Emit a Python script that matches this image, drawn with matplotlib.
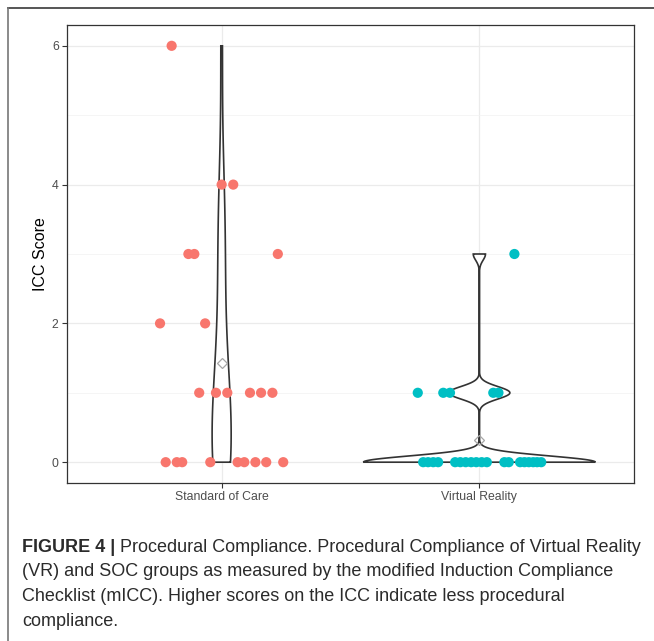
import numpy as np
import matplotlib.pyplot as plt
from matplotlib.lines import Line2D

plt.rcParams['font.family'] = ['Liberation Sans', 'DejaVu Sans']

groups = ["Standard of Care", "Virtual Reality"]
colors = ["#F8766D", "#00BFC4"]

# ICC scores per participant, with the horizontal jitter seen there
soc_scores = [6, 4, 4, 3, 3, 3, 2, 2, 1, 1, 1, 1, 1, 1, 0, 0, 0, 0, 0, 0, 0, 0, 0]
soc_jitter = [-0.194, 0.000, 0.045, -0.129, -0.106, 0.218, -0.239, -0.064,
              -0.087, -0.022, 0.022, 0.110, 0.153, 0.197,
              -0.217, -0.174, -0.153, -0.044, 0.062, 0.088, 0.131, 0.173, 0.239]

vr_scores = [3, 1, 1, 1, 1, 1] + [0] * 19
vr_jitter = [0.136, -0.239, -0.140, -0.114, 0.054, 0.074,
             -0.218, -0.199, -0.179, -0.160,
             -0.094, -0.074, -0.053, -0.032, -0.012, 0.009, 0.029,
             0.097, 0.114,
             0.158, 0.175, 0.192, 0.209, 0.224, 0.240]

# kernel bandwidth of each violin (estimated from the outline shapes)
bandwidths = [0.8, 0.09]

caption_bold = "FIGURE 4 |"
caption_lines = [
    "Procedural Compliance. Procedural Compliance of Virtual Reality",
    "(VR) and SOC groups as measured by the modified Induction Compliance",
    "Checklist (mICC). Higher scores on the ICC indicate less procedural",
    "compliance.",
]


def kde(values, bw, grid):
    values = np.asarray(values, dtype=float)
    u = (grid[:, None] - values[None, :]) / bw
    return np.exp(-0.5 * u ** 2).sum(axis=1) / (len(values) * bw * np.sqrt(2 * np.pi))


fig = plt.figure(figsize=(6.54, 6.41), dpi=100)
ax = fig.add_axes([67 / 654, 1 - 483 / 641, 567 / 654, 458 / 641])

all_scores = [soc_scores, vr_scores]
all_jitter = [soc_jitter, vr_jitter]

# violins: equal area, widest one gets half-width 0.45
grids, dens = [], []
for scores, bw in zip(all_scores, bandwidths):
    g = np.linspace(min(scores), max(scores), 400)
    grids.append(g)
    dens.append(kde(scores, bw, g))
scale = 0.45 / max(d.max() for d in dens)

for i, (g, d) in enumerate(zip(grids, dens)):
    pos = i + 1
    w = d * scale
    xs = np.concatenate([pos - w, (pos + w)[::-1]])
    ys = np.concatenate([g, g[::-1]])
    ax.fill(xs, ys, facecolor='white', edgecolor='#333333', lw=1.2, zorder=2)

# group means
for i, scores in enumerate(all_scores):
    ax.plot(i + 1, np.mean(scores), marker='D', ms=4.6, mfc='none', mec='#A6A6A6',
            mew=0.9, zorder=3)

# points
for i, (scores, jit) in enumerate(zip(all_scores, all_jitter)):
    ax.scatter(np.array(jit) + i + 1, scores, s=54, color=colors[i],
               edgecolors='none', zorder=4)

ax.set_xlim(0.4, 2.6)
ax.set_ylim(-0.3, 6.3)
ax.set_xticks([1, 2])
ax.set_xticklabels(groups)
ax.set_yticks([0, 2, 4, 6])
ax.set_yticks([1, 3, 5], minor=True)
ax.grid(True, which='major', color='#EBEBEB', lw=0.9, zorder=0)
ax.grid(True, which='minor', axis='y', color='#F2F2F2', lw=0.5, zorder=0)
ax.set_axisbelow(True)
ax.tick_params(axis='both', which='major', labelsize=8.8, labelcolor='#4D4D4D',
               color='#333333', length=3.5, width=0.8, pad=2.5)
ax.tick_params(axis='y', which='minor', length=0)
for sp in ax.spines.values():
    sp.set_color('#333333')
    sp.set_linewidth(0.9)
ax.set_ylabel("ICC Score", fontsize=11.5, labelpad=3)

# outer frame of the figure panel
fig.add_artist(Line2D([8 / 654, 1], [1 - 8 / 641, 1 - 8 / 641], transform=fig.transFigure,
                      color='#555555', lw=1.4))
fig.add_artist(Line2D([8 / 654, 8 / 654], [0, 1 - 8 / 641], transform=fig.transFigure,
                      color='#777777', lw=1.2))

# caption
fs = 13.0
x0 = 22 / 654
base = 551.7
step = 24.8
tcol = '#2B2B2B'
tb = fig.text(x0, 1 - base / 641, caption_bold, fontsize=fs, weight='bold',
              color=tcol, va='baseline')
renderer = fig.canvas.get_renderer()
bb = tb.get_window_extent(renderer)
fig.text((bb.x1 + 5) / 654, 1 - base / 641, caption_lines[0], fontsize=fs,
         color=tcol, va='baseline')
for k, line in enumerate(caption_lines[1:], start=1):
    fig.text(x0, 1 - (base + k * step) / 641, line, fontsize=fs, color=tcol,
             va='baseline')

fig.savefig("out.png", dpi=100)
